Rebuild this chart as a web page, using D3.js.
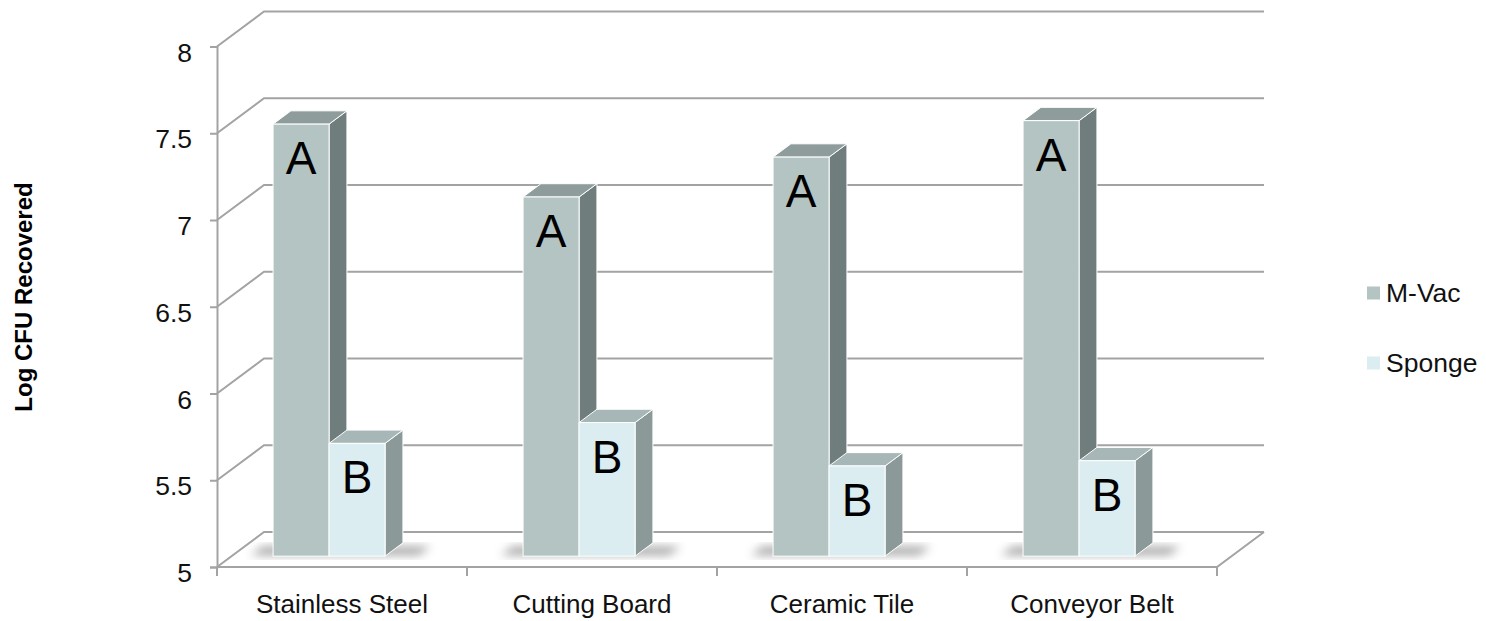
<!DOCTYPE html>
<html>
<head>
<meta charset="utf-8">
<script src="https://cdn.jsdelivr.net/npm/d3@7"></script>
<style>
  html, body { margin: 0; padding: 0; background: #fff; }
  svg { display: block; font-family: "Liberation Sans", Arial, sans-serif; }
</style>
</head>
<body>
<svg id="chart" width="1486" height="621"></svg>
<script>
// ---- data ----
const categories = ["Stainless Steel", "Cutting Board", "Ceramic Tile", "Conveyor Belt"];
const seriesNames = ["M-Vac", "Sponge"];
const mvacValues = [7.49, 7.07, 7.30, 7.51];
const spongeValues = [5.65, 5.77, 5.52, 5.55];
const mvacLetters = ["A", "A", "A", "A"];
const spongeLetters = ["B", "B", "B", "B"];
const yTicks = [5, 5.5, 6, 6.5, 7, 7.5, 8];
const yTitle = "Log CFU Recovered";

// ---- layout ----
const svg = d3.select("#chart");
const DX = 47, DY = -35;                 // depth projection of the floor
const x0 = d3.scaleBand().domain(categories).range([217, 1217]);
const x1 = d3.scaleBand().domain(seriesNames).range([0, 112]);
const y = d3.scaleLinear().domain([5, 8]).range([567, 46.5]);
const zf = 0.31, zb = 0.69;              // bar depth extent (front/back fraction)
const groupOffset = 41.5;

const gridColor = "#a3a3a3";
const colors = {
  "M-Vac": { front: "#b4c4c3", top: "#8e9d9c", side: "#6f7d7c" },
  "Sponge": { front: "#dbedf0", top: "#a7b6b6", side: "#8b9999" }
};

const defs = svg.append("defs");
const blur = defs.append("filter").attr("id", "blur").attr("x", "-50%").attr("y", "-50%").attr("width", "200%").attr("height", "200%");
blur.append("feGaussianBlur").attr("stdDeviation", 5);
defs.append("clipPath").attr("id", "floorClip").append("path")
  .attr("d", `M${217},${y(5)} L${217 + DX},${y(5) + DY} L${1217 + DX},${y(5) + DY} L1217,${y(5)} Z`);

// ---- walls / gridlines ----
const grid = svg.append("g");
yTicks.forEach(t => {
  const yy = y(t);
  grid.append("path")
    .attr("d", `M217,${yy} L${217 + DX},${yy + DY} L${1217 + DX},${yy + DY}`)
    .attr("fill", "none").attr("stroke", gridColor).attr("stroke-width", 2);
});
grid.append("path")
  .attr("d", `M217,${y(5)} L1217,${y(5)} L${1217 + DX},${y(5) + DY}`)
  .attr("fill", "none").attr("stroke", gridColor).attr("stroke-width", 2);

// ---- y axis ----
const yAxis = d3.axisLeft(y).tickValues(yTicks).tickSize(7).tickPadding(18).tickFormat(d3.format("~g"));
const yg = svg.append("g").attr("transform", "translate(217,0)").call(yAxis);
yg.select(".domain").attr("stroke", gridColor).attr("stroke-width", 2);
yg.selectAll(".tick line").attr("stroke", gridColor).attr("stroke-width", 2);
yg.selectAll(".tick text").attr("font-size", 26.5).attr("fill", "#111").attr("dy", "0.55em")
  .attr("font-family", "Liberation Sans, Arial, sans-serif");

// ---- x axis ----
const xEdges = categories.map(c => x0(c)).concat([1217]);
svg.append("g").selectAll("line").data(xEdges).join("line")
  .attr("x1", d => d).attr("x2", d => d).attr("y1", y(5)).attr("y2", y(5) + 9)
  .attr("stroke", gridColor).attr("stroke-width", 2);
svg.append("g").selectAll("text").data(categories).join("text")
  .attr("x", d => x0(d) + x0.bandwidth() / 2).attr("y", 613)
  .attr("text-anchor", "middle").attr("font-size", 26).attr("fill", "#111")
  .text(d => d);

// ---- y title ----
svg.append("text")
  .attr("transform", `translate(32,297) rotate(-90)`)
  .attr("text-anchor", "middle").attr("font-size", 24).attr("font-weight", "bold").attr("fill", "#000")
  .text(yTitle);

// ---- bars ----
const bars = [];
categories.forEach((c, i) => {
  bars.push({ cat: c, s: "M-Vac", v: mvacValues[i], label: mvacLetters[i] });
  bars.push({ cat: c, s: "Sponge", v: spongeValues[i], label: spongeLetters[i] });
});

// shadows on the floor
const shadowG = svg.append("g").attr("clip-path", "url(#floorClip)");
categories.forEach(c => {
  const xl = x0(c) + groupOffset - 26, xr = x0(c) + groupOffset + 112 + 30;
  const za = zf + 0.08, zc = zb - 0.05;
  shadowG.append("path")
    .attr("d", `M${xl + za * DX},${y(5) + za * DY + 2} L${xl + zc * DX},${y(5) + zc * DY + 2} L${xr + zc * DX},${y(5) + zc * DY + 2} L${xr + za * DX},${y(5) + za * DY + 2} Z`)
    .attr("fill", "#6e6e6e").attr("opacity", 0.6).attr("filter", "url(#blur)");
});

const barG = svg.append("g");
bars.forEach(b => {
  const xl = x0(b.cat) + groupOffset + x1(b.s);
  const xr = xl + x1.bandwidth();
  const yt = y(b.v), y0 = y(5);
  const col = colors[b.s];
  const P = (x, yy, z) => `${x + z * DX},${yy + z * DY}`;
  const g = barG.append("g");
  g.append("path")
    .attr("d", `M${P(xr, yt, zf)} L${P(xr, yt, zb)} L${P(xr, y0, zb)} L${P(xr, y0, zf)} Z`)
    .attr("fill", col.side).attr("stroke", "#fff").attr("stroke-width", 1);
  g.append("path")
    .attr("d", `M${P(xl, yt, zf)} L${P(xl, yt, zb)} L${P(xr, yt, zb)} L${P(xr, yt, zf)} Z`)
    .attr("fill", col.top).attr("stroke", "#fff").attr("stroke-width", 1);
  g.append("rect")
    .attr("x", xl + zf * DX).attr("y", yt + zf * DY)
    .attr("width", xr - xl).attr("height", y0 - yt)
    .attr("fill", col.front).attr("stroke", "#fff").attr("stroke-width", 1);
  g.append("text")
    .attr("x", (xl + xr) / 2 + zf * DX).attr("y", yt + zf * DY + 50)
    .attr("text-anchor", "middle").attr("font-size", 46).attr("fill", "#000")
    .text(b.label);
});

// ---- legend ----
const legend = svg.append("g");
seriesNames.forEach((s, i) => {
  const ly = 293 + i * 70;
  legend.append("rect").attr("x", 1367).attr("y", ly - 6.5).attr("width", 13).attr("height", 13)
    .attr("fill", colors[s].front);
  legend.append("text").attr("x", 1386).attr("y", ly + 9).attr("font-size", 26.5).attr("fill", "#111").text(s);
});
</script>
</body>
</html>
